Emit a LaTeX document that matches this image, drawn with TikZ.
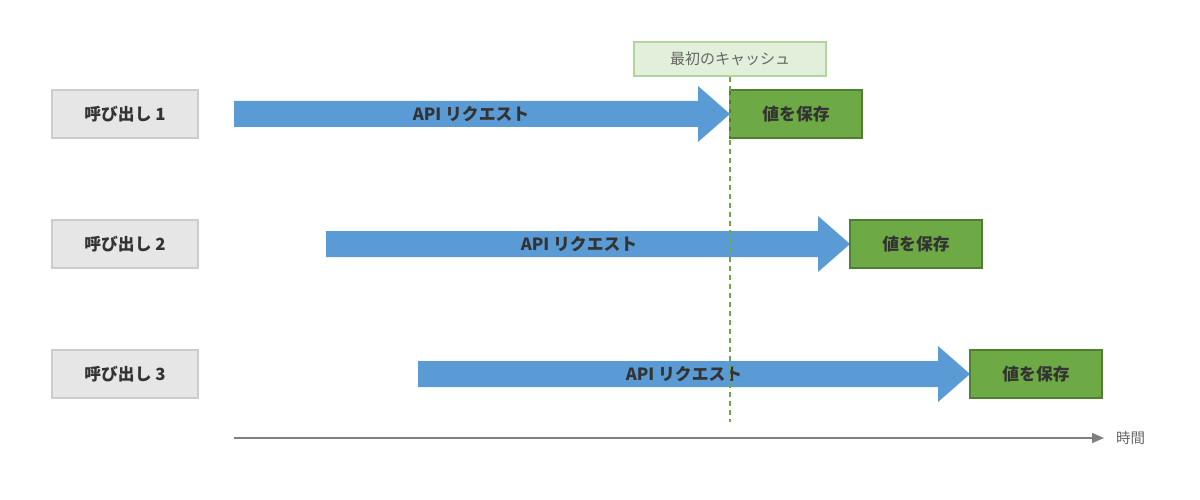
\documentclass[tikz,border=0pt]{standalone}
\usepackage{fontspec}
\setmainfont{Noto Sans CJK JP}
\usetikzlibrary{arrows.meta}
\definecolor{callfill}{HTML}{E6E6E6}
\definecolor{callline}{HTML}{CCCCCC}
\definecolor{reqblue}{HTML}{5B9BD5}
\definecolor{savefill}{HTML}{6DA944}
\definecolor{saveline}{HTML}{507E32}
\definecolor{cachefill}{HTML}{E2EFDA}
\definecolor{cacheline}{HTML}{B1D59C}
\definecolor{darktext}{HTML}{333333}
\definecolor{graytext}{HTML}{666666}
\definecolor{axisgray}{HTML}{808080}
\begin{document}
\begin{tikzpicture}[x=1pt,y=-1pt,
  callbox/.style={draw=callline,line width=1.2pt,fill=callfill,minimum width=146pt,minimum height=48pt,inner sep=0pt,font=\bfseries\fontsize{16.8}{19}\selectfont,text=darktext},
  savebox/.style={draw=saveline,line width=1.6pt,fill=savefill,minimum width=132pt,minimum height=48pt,inner sep=0pt,font=\bfseries\fontsize{16.8}{19}\selectfont,text=darktext},
  reqtext/.style={font=\bfseries\fontsize{16.8}{19}\selectfont,text=darktext,inner sep=0pt},
  cachebox/.style={draw=cacheline,line width=1.2pt,fill=cachefill,minimum width=192pt,minimum height=34pt,inner sep=0pt,font=\fontsize{15}{17}\selectfont,text=graytext},
]
\useasboundingbox (0,0) rectangle (1200,500);
% request arrows
\fill[reqblue] (234,101) -- (698,101) -- (698,86) -- (730,114) -- (698,142) -- (698,127) -- (234,127) -- cycle;
\fill[reqblue] (326,231) -- (818,231) -- (818,216) -- (850,244) -- (818,272) -- (818,257) -- (326,257) -- cycle;
\fill[reqblue] (418,361) -- (938,361) -- (938,346) -- (970,374) -- (938,402) -- (938,387) -- (418,387) -- cycle;
\node[reqtext] (r1) at (471,114) {API リクエスト};
\node[reqtext] (r2) at (579,244) {API リクエスト};
\node[reqtext] (r3) at (684,374) {API リクエスト};
% call boxes
\node[callbox] (c1) at (125,114) {呼び出し 1};
\node[callbox] (c2) at (125,244) {呼び出し 2};
\node[callbox] (c3) at (125,374) {呼び出し 3};
% save boxes
\node[savebox] (s1) at (796,114) {値を保存};
\node[savebox] (s2) at (916,244) {値を保存};
\node[savebox] (s3) at (1036,374) {値を保存};
% cache marker
\node[cachebox] (cache) at (730,59) {最初のキャッシュ};
\coordinate (dend) at (730,422);
\draw[savefill,line width=1.5pt,dash pattern=on 5pt off 4pt] (cache.south) -- (dend);
% time axis
\coordinate (t0) at (234,438);
\node[inner sep=0pt,anchor=west,font=\fontsize{14.5}{17}\selectfont,text=graytext] (time) at (1116,438) {時間};
\draw[axisgray,line width=1.5pt,-{Triangle[length=12pt,width=10pt]}] (t0) -- (1104,438);
\end{tikzpicture}
\end{document}
